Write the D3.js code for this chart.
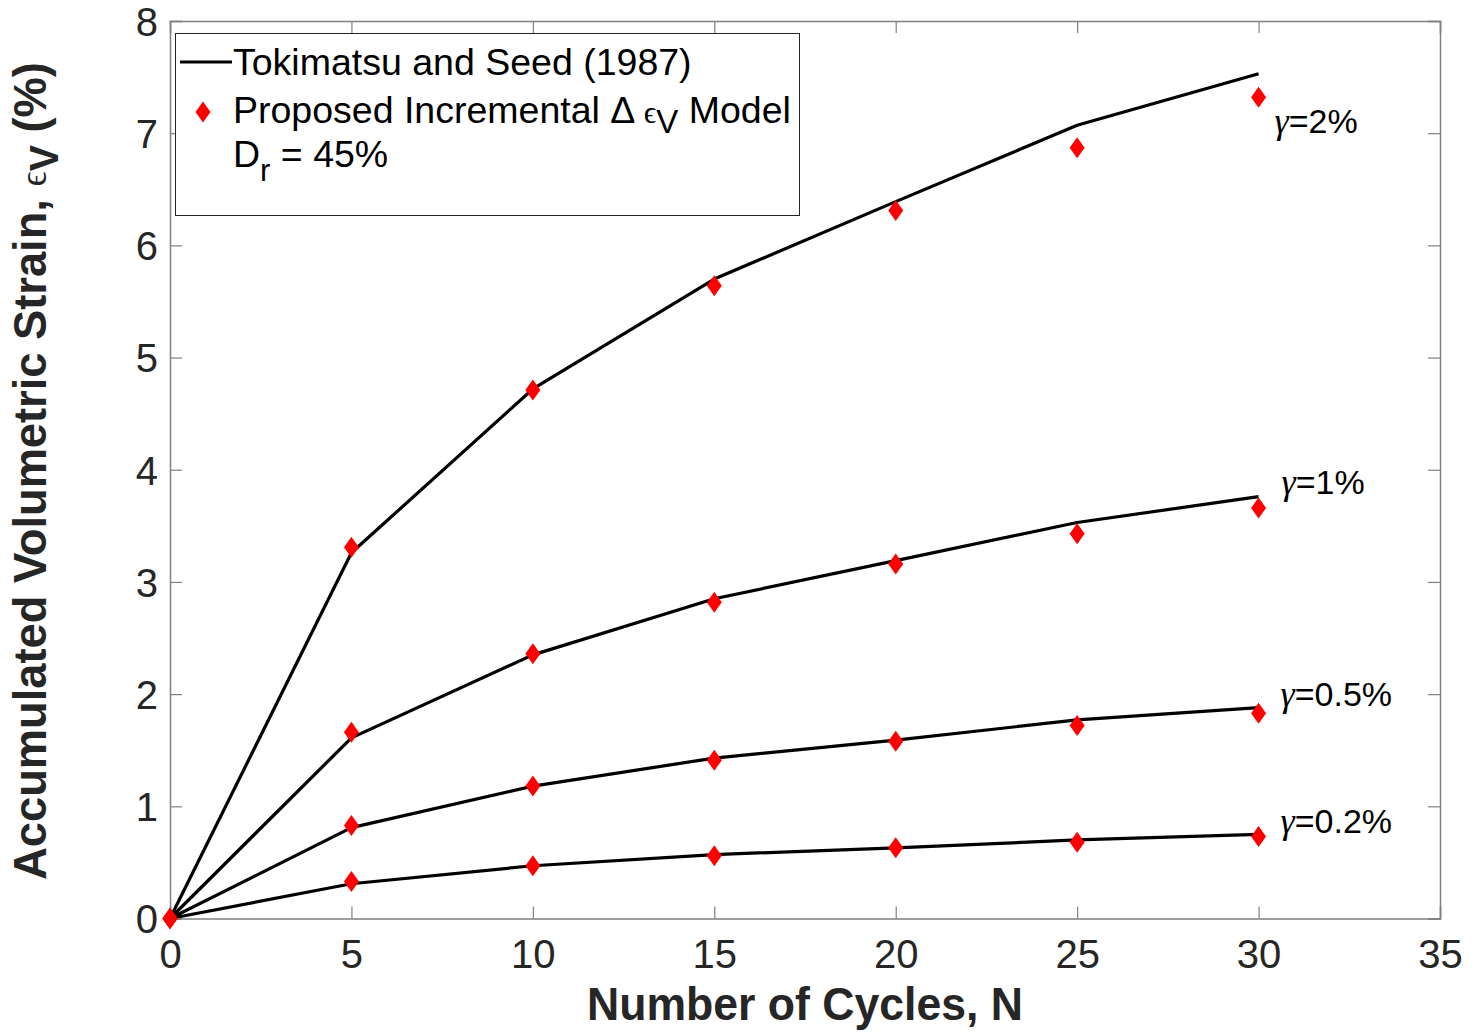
<!DOCTYPE html>
<html><head><meta charset="utf-8">
<script src="https://cdn.jsdelivr.net/npm/d3@7"></script>
<style>
html,body{margin:0;padding:0;background:#fff;}
svg{display:block;}
</style></head>
<body>
<svg id="chart" width="1481" height="1032"></svg>
<script>
// ---- data ----
const cycles = [0, 5, 10, 15, 20, 25, 30];
const tokimatsu2 = [0, 3.26, 4.72, 5.70, 6.39, 7.07, 7.53];
const tokimatsu1 = [0, 1.61, 2.35, 2.85, 3.19, 3.53, 3.76];
const tokimatsu05 = [0, 0.81, 1.18, 1.43, 1.59, 1.77, 1.88];
const tokimatsu02 = [0, 0.31, 0.47, 0.57, 0.63, 0.70, 0.75];
const model2 = [0, 3.31, 4.71, 5.64, 6.31, 6.87, 7.32];
const model1 = [0, 1.66, 2.36, 2.82, 3.16, 3.43, 3.66];
const model05 = [0, 0.83, 1.18, 1.41, 1.58, 1.72, 1.83];
const model02 = [0, 0.33, 0.47, 0.56, 0.63, 0.68, 0.73];
const gammaLabels = ["=2%", "=1%", "=0.5%", "=0.2%"];
const xTicks = [0, 5, 10, 15, 20, 25, 30, 35];
const yTicks = [0, 1, 2, 3, 4, 5, 6, 7, 8];

const lineSeries = [tokimatsu2, tokimatsu1, tokimatsu05, tokimatsu02];
const modelSeries = [model2, model1, model05, model02];

// ---- layout ----
const svg = d3.select("#chart");
const L = 170, R = 1440, T = 21, B = 918.5;
const x = d3.scaleLinear().domain([0, 35]).range([L, R]);
const y = d3.scaleLinear().domain([0, 8]).range([B, T]);
const axisCol = "#808080", textCol = "#262626";
const sans = "Arial, 'Liberation Sans', Helvetica, sans-serif";
const serif = "'Liberation Serif', 'Times New Roman', serif";

// axes box with inward ticks
const gx = svg.append("g").attr("transform", `translate(0,${B})`)
  .call(d3.axisBottom(x).tickValues(xTicks).tickSize(-12).tickPadding(21).tickFormat(d3.format("d")));
const gxTop = svg.append("g").attr("transform", `translate(0,${T})`)
  .call(d3.axisTop(x).tickValues(xTicks).tickSize(-12).tickFormat(""));
const gy = svg.append("g").attr("transform", `translate(${L},0)`)
  .call(d3.axisLeft(y).tickValues(yTicks).tickSize(-12).tickPadding(12).tickFormat(d3.format("d")));
const gyR = svg.append("g").attr("transform", `translate(${R},0)`)
  .call(d3.axisRight(y).tickValues(yTicks).tickSize(-12).tickFormat(""));
[gx, gxTop, gy, gyR].forEach(g => {
  g.select(".domain").attr("stroke", axisCol).attr("stroke-width", 1.5);
  g.selectAll(".tick line").attr("stroke", axisCol).attr("stroke-width", 1.2);
  g.selectAll(".tick text").attr("fill", textCol).attr("font-family", sans).attr("font-size", 40);
});
gx.selectAll(".tick text").attr("dy", "0.71em");
gy.selectAll(".tick text").attr("dy", "0.36em");

// data lines
const line = d3.line().x((d, i) => x(cycles[i])).y(d => y(d));
svg.append("g").selectAll("path").data(lineSeries).join("path")
  .attr("d", line).attr("fill", "none").attr("stroke", "#000").attr("stroke-width", 3.2)
  .attr("stroke-linejoin", "round");

// diamond markers
const dia = (cx, cy) => `M${cx},${cy-10.5}L${cx+7.5},${cy}L${cx},${cy+10.5}L${cx-7.5},${cy}Z`;
const mk = svg.append("g");
modelSeries.forEach(s => {
  mk.selectAll(null).data(s).join("path")
    .attr("d", (d, i) => dia(x(cycles[i]), y(d))).attr("fill", "#ff0000");
});

// gamma labels
const gammaPos = [[x(30) + 16, 133], [x(30) + 23, 494], [x(30) + 22, 706], [x(30) + 22, 833]];
gammaLabels.forEach((t, i) => {
  const tx = svg.append("text").attr("x", gammaPos[i][0]).attr("y", gammaPos[i][1])
    .attr("font-family", sans).attr("font-size", 34).attr("fill", "#000");
  tx.append("tspan").attr("font-family", serif).attr("font-style", "italic").attr("font-size", 36).text("γ");
  tx.append("tspan").text(t);
});

// axis titles
function fitText(sel, target) {
  const w = sel.node().getComputedTextLength();
  return target / w;
}
const xt = svg.append("g");
const xtext = xt.append("text").attr("text-anchor", "middle")
  .attr("font-family", sans).attr("font-weight", "bold").attr("font-size", 46).attr("fill", textCol)
  .text("Number of Cycles, N");
const sx = fitText(xtext, 436);
xt.attr("transform", `translate(805,1020) scale(${sx},1)`);

const yt = svg.append("g");
const ytext = yt.append("text").attr("text-anchor", "middle")
  .attr("font-family", sans).attr("font-weight", "bold").attr("font-size", 46).attr("fill", textCol);
ytext.append("tspan").text("Accumulated Volumetric Strain, ");
ytext.append("tspan").attr("font-family", serif).attr("font-weight", "normal").attr("font-size", 38).text("ϵ");
ytext.append("tspan").attr("dy", 12).attr("font-size", 40).text("V");
ytext.append("tspan").attr("dy", -12).text(" (%)");
const sy = fitText(ytext, 818);
yt.attr("transform", `translate(46,471) rotate(-90) scale(${sy},1)`);

// legend
const lg = svg.append("g");
lg.append("rect").attr("x", 175.5).attr("y", 33.5).attr("width", 624).attr("height", 182)
  .attr("fill", "#fff").attr("stroke", "#262626").attr("stroke-width", 1);
lg.append("line").attr("x1", 180).attr("x2", 232).attr("y1", 62).attr("y2", 62)
  .attr("stroke", "#000").attr("stroke-width", 3.2);
lg.append("text").attr("x", 233).attr("y", 75).attr("font-family", sans).attr("font-size", 37.5)
  .attr("fill", "#000").text("Tokimatsu and Seed (1987)");
lg.append("path").attr("d", dia(203, 112)).attr("fill", "#ff0000");
const l2 = lg.append("text").attr("x", 233).attr("y", 123).attr("font-family", sans).attr("font-size", 37.5).attr("fill", "#000");
l2.append("tspan").text("Proposed Incremental Δ ");
l2.append("tspan").attr("font-family", serif).attr("font-size", 31).text("ϵ");
l2.append("tspan").attr("dy", 10).attr("font-size", 33).text("V");
l2.append("tspan").attr("dy", -10).text(" Model");
const l3 = lg.append("text").attr("x", 233).attr("y", 167).attr("font-family", sans).attr("font-size", 37.5).attr("fill", "#000");
l3.append("tspan").text("D");
l3.append("tspan").attr("dy", 14).attr("font-size", 31).text("r");
l3.append("tspan").attr("dy", -14).text(" = 45%");
</script>
</body></html>
